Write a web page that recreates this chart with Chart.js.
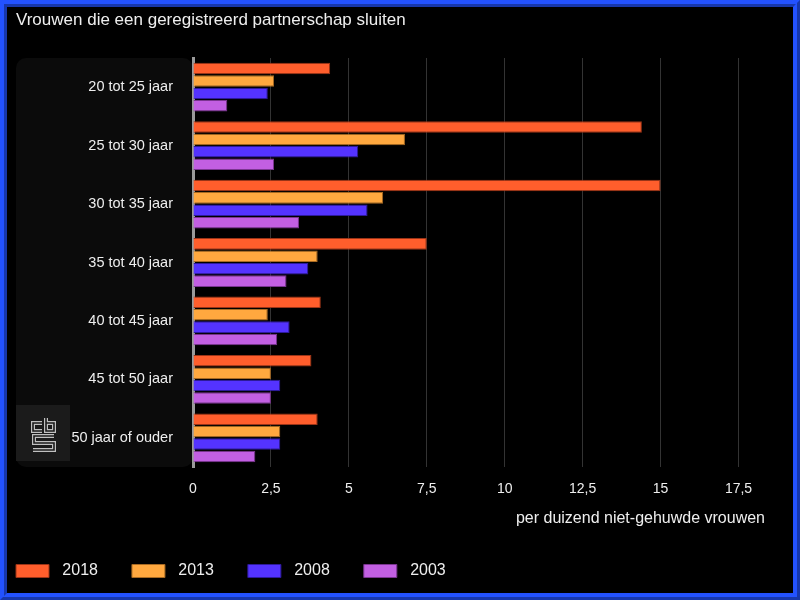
<!DOCTYPE html>
<html>
<head>
<meta charset="utf-8">
<script src="https://cdn.jsdelivr.net/npm/chart.js"></script>
<style>
html, body { margin: 0; padding: 0; background: #000; }
#wrap { position: relative; width: 800px; height: 600px; overflow: hidden; }
canvas { position: absolute; left: 0; top: 0; }
#frame {
    position: absolute; left: 0; top: 0; width: 800px; height: 600px;
    box-sizing: border-box; border: 7px ridge #2352ff; pointer-events: none;
}
</style>
</head>
<body>
<div id="wrap">
    <canvas id="myChart" width="800" height="600"></canvas>
    <div id="frame"></div>
</div>
<script>
const categories = ['20 tot 25 jaar', '25 tot 30 jaar', '30 tot 35 jaar', '35 tot 40 jaar', '40 tot 45 jaar', '45 tot 50 jaar', '50 jaar of ouder'];
const years = ['2018', '2013', '2008', '2003'];
const values2018 = [4.4, 14.4, 15.0, 7.5, 4.1, 3.8, 4.0];
const values2013 = [2.6, 6.8, 6.1, 4.0, 2.4, 2.5, 2.8];
const values2008 = [2.4, 5.3, 5.6, 3.7, 3.1, 2.8, 2.8];
const values2003 = [1.1, 2.6, 3.4, 3.0, 2.7, 2.5, 2.0];
const xTicks = [0, 2.5, 5, 7.5, 10, 12.5, 15, 17.5];

const colors = ['#ff5e2c', '#ffa83f', '#5433ff', '#c25fe2'];
const borders = ['#9c3417', '#a86a22', '#2d1a9c', '#7a3590'];
const legendGap = 34;

Chart.defaults.font.family = 'Arial, "Liberation Sans", sans-serif';

// background panel behind the category labels + logo
const panelPlugin = {
    id: 'panel',
    beforeDraw(chart) {
        const c = chart.ctx;
        const a = chart.chartArea;
        c.save();
        c.fillStyle = '#000';
        c.fillRect(0, 0, chart.width, chart.height);
        c.fillStyle = '#0b0b0b';
        c.beginPath();
        c.roundRect(16, a.top, a.left - 16, a.bottom - a.top, 10);
        c.fill();
        // logo box
        c.fillStyle = '#1b1b1b';
        c.fillRect(16, 405, 54, 56);
        const drawLogo = (w, col) => {
            c.strokeStyle = col;
            c.lineWidth = w;
            c.lineJoin = 'miter';
            c.beginPath();
            c.moveTo(42, 423); c.lineTo(33, 423); c.lineTo(33, 431); c.lineTo(42, 431);
            c.moveTo(46, 418); c.lineTo(46, 431); c.lineTo(54, 431); c.lineTo(54, 423); c.lineTo(46, 423);
            c.moveTo(54, 436); c.lineTo(34, 436); c.lineTo(34, 443); c.lineTo(54, 443); c.lineTo(54, 450); c.lineTo(33, 450);
            c.stroke();
        };
        drawLogo(4, '#c0c0c0');
        drawLogo(1.6, '#1b1b1b');
        c.restore();
    },
    afterLayout(chart) {
        chart.legend.left = 16 - legendGap;
        chart.legend.top = 571 - legendGap - 8;
    }
};

const ctx = document.getElementById('myChart').getContext('2d');
const myChart = new Chart(ctx, {
    type: 'bar',
    data: {
        labels: categories,
        datasets: [values2018, values2013, values2008, values2003].map((d, i) => ({
            label: years[i],
            data: d,
            backgroundColor: colors[i],
            borderColor: borders[i],
            borderWidth: 1,
            categoryPercentage: 0.85,
            barPercentage: 0.93
        }))
    },
    options: {
        indexAxis: 'y',
        responsive: false,
        animation: false,
        layout: { padding: { left: 16, right: 35, top: 0, bottom: 5 } },
        plugins: {
            title: {
                display: true,
                text: 'Vrouwen die een geregistreerd partnerschap sluiten',
                align: 'start',
                color: '#eeeeee',
                font: { size: 17, weight: 'normal' },
                padding: { top: 10, bottom: 27.6 }
            },
            legend: {
                position: 'bottom',
                align: 'start',
                labels: {
                    color: '#eeeeee',
                    font: { size: 16 },
                    boxWidth: 33,
                    boxHeight: 13,
                    padding: legendGap,
                    generateLabels: chart => Chart.defaults.plugins.legend.labels.generateLabels(chart)
                        .map(l => ({ ...l, text: '\u2004' + l.text }))
                }
            },
            tooltip: { enabled: false }
        },
        scales: {
            x: {
                min: 0,
                max: 18.35,
                afterBuildTicks: s => { s.ticks = xTicks.map(v => ({ value: v })); },
                ticks: {
                    color: '#eeeeee',
                    font: { size: 14 },
                    padding: 14,
                    callback: v => String(v).replace('.', ',')
                },
                grid: { color: '#333333', drawTicks: false },
                border: { display: false },
                title: {
                    display: true,
                    text: 'per duizend niet-gehuwde vrouwen',
                    align: 'end',
                    color: '#eeeeee',
                    font: { size: 16 },
                    padding: { top: -3, bottom: 7 }
                }
            },
            y: {
                ticks: { color: '#eeeeee', font: { size: 14.5 }, padding: 20 },
                grid: { display: false, drawTicks: false },
                border: { color: '#9a9a9a', width: 3 },
                afterFit: s => { s.width = 177; }
            }
        }
    },
    plugins: [panelPlugin]
});
</script>
</body>
</html>
